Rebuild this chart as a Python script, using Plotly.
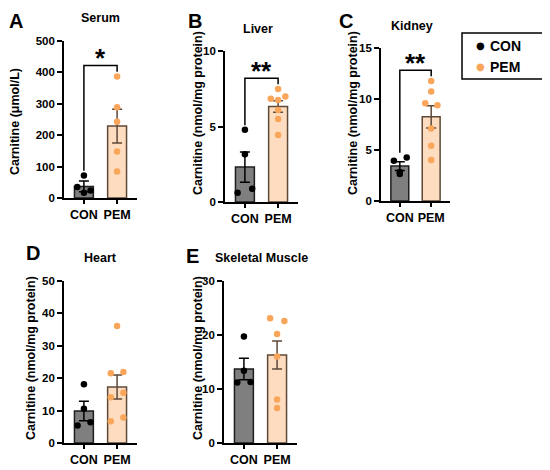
import plotly.graph_objects as go

groups = ["CON", "PEM"]

letters = ["A", "B", "C", "D", "E"]
tissues = ["Serum", "Liver", "Kidney", "Heart", "Skeletal Muscle"]
y_titles = ["Carnitine (μmol/L)", "Carnitine (nmol/mg protein)", "Carnitine (nmol/mg protein)",
            "Carnitine (nmol/mg protein)", "Carnitine (nmol/mg protein)"]

# bar heights (mean) and SEM
con_mean = [37, 2.31, 3.42, 9.9, 13.7]
con_sem = [17, 1.0, 0.42, 3.0, 2.0]
pem_mean = [229, 6.32, 8.25, 17.3, 16.3]
pem_sem = [54, 0.38, 1.1, 3.7, 2.6]

# individual values
con_points = [
    [72, 35, 24, 17],
    [4.78, 3.17, 0.61, 0.88],
    [3.95, 4.27, 2.64, 2.85],
    [18.1, 10.6, 6.4, 5.4],
    [19.7, 13.4, 11.2, 11.3],
]
pem_points = [
    [387, 289, 243, 148, 84],
    [7.49, 6.98, 6.83, 6.76, 6.1, 5.5, 4.44],
    [11.77, 10.73, 9.59, 9.39, 7.1, 5.41, 4.01],
    [36.1, 21.5, 21.9, 14.1, 15.5, 7.9, 6.7],
    [23.1, 22.6, 20.2, 16.0, 8.05, 6.5],
]
# horizontal scatter offsets of the dots (category units)
con_jitter = [
    [0, -0.2, 0.2, 0],
    [0, 0, -0.22, 0.22],
    [-0.19, 0.22, 0, 0],
    [0, 0, 0.2, -0.19],
    [0, 0, -0.2, 0.2],
]
pem_jitter = [
    [0, 0, 0, 0, 0],
    [0, 0.22, -0.22, 0, 0, 0, 0],
    [0, 0, -0.19, 0.2, 0, 0, 0],
    [0, -0.19, 0.19, -0.19, 0.19, 0.19, -0.19],
    [-0.21, 0.22, 0, 0, 0, 0],
]

y_max = [500, 10, 15, 50, 30]
y_step = [100, 5, 5, 10, 10]
stars = ["*", "**", "**", "", ""]

# the page body has an 8px margin, so the figure is a little smaller than the window
OFF = 8
W, H = 550 - OFF, 470 - OFF


def px_x(v):
    return (v - OFF) / W


def px_y(v):
    return 1 - (v - OFF) / H


# plot areas in window pixels: x0, x1, ytop, ybottom
boxes = [(64, 137, 41, 198), (225, 298, 51, 202), (381, 450, 48, 201),
         (64, 137, 281, 443), (224, 297, 281, 443)]
title_pos = [(15, 122), (198, 113), (353, 113), (31, 358), (198, 358)]
tissue_pos = [(100, 18), (258, 29), (412, 26), (100, 258), (261, 258)]
letter_pos = [(16, 8), (195, 8), (346, 8), (33, 240), (192, 243)]

CON_FILL, CON_LINE = "#7f7f7f", "#1e1e1e"
PEM_FILL, PEM_LINE, PEM_DOT = "#fedcbf", "#5e4938", "#f9a65a"
FONT = "Liberation Sans"

fig = go.Figure()
shapes, annotations = [], []

for i in range(5):
    xa = "x" if i == 0 else f"x{i + 1}"
    ya = "y" if i == 0 else f"y{i + 1}"
    fig.add_trace(go.Bar(
        x=[0], y=[con_mean[i]], width=0.57, xaxis=xa, yaxis=ya,
        marker=dict(color=CON_FILL, line=dict(color=CON_LINE, width=1.5)),
        error_y=dict(type="data", array=[con_sem[i]], color="#000000", thickness=1.5, width=5),
    ))
    fig.add_trace(go.Bar(
        x=[1], y=[pem_mean[i]], width=0.57, xaxis=xa, yaxis=ya,
        marker=dict(color=PEM_FILL, line=dict(color=PEM_LINE, width=1.5)),
        error_y=dict(type="data", array=[pem_sem[i]], color=PEM_LINE, thickness=1.5, width=5),
    ))
    fig.add_trace(go.Scatter(
        x=[0 + j for j in con_jitter[i]], y=con_points[i], mode="markers",
        xaxis=xa, yaxis=ya, name="CON", cliponaxis=False,
        marker=dict(color="#000000", size=6.5),
    ))
    fig.add_trace(go.Scatter(
        x=[1 + j for j in pem_jitter[i]], y=pem_points[i], mode="markers",
        xaxis=xa, yaxis=ya, name="PEM", cliponaxis=False,
        marker=dict(color=PEM_DOT, size=6.5),
    ))

    x0, x1, yt, yb = boxes[i]
    ax = dict(domain=[px_x(x0), px_x(x1)], range=[-0.6, 1.6], anchor=ya,
              tickvals=[0, 1], ticktext=groups, showline=True, linecolor="#000000",
              linewidth=1.6, ticks="outside", ticklen=4, tickwidth=1.5, tickcolor="#000000",
              showgrid=False, zeroline=False, fixedrange=True,
              tickfont=dict(family=FONT, size=12.5, color="#000000", weight="bold"))
    ay = dict(domain=[px_y(yb), px_y(yt)], range=[0, y_max[i]], anchor=xa,
              tickvals=list(range(0, y_max[i] + 1, y_step[i])), showline=True,
              linecolor="#000000", linewidth=1.6, ticks="outside", ticklen=5,
              tickwidth=1.5, tickcolor="#000000", showgrid=False, zeroline=False,
              tickfont=dict(family=FONT, size=11.5, color="#000000", weight="bold"))
    fig.update_layout({"xaxis" if i == 0 else f"xaxis{i + 1}": ax,
                       "yaxis" if i == 0 else f"yaxis{i + 1}": ay})

    # significance bracket
    if stars[i]:
        gap = 0.03 * y_max[i]
        left = max(con_points[i]) + gap
        right = max(pem_points[i]) + gap
        top = max(left, right) + 0.04 * y_max[i]
        shapes.append(dict(type="path", xref=xa, yref=ya,
                           path=f"M 0,{left} L 0,{top} L 1,{top} L 1,{right}",
                           line=dict(color="#000000", width=1.5)))
        annotations.append(dict(text=f"<b>{stars[i]}</b>", x=0.5, y=top, xref=xa, yref=ya,
                                showarrow=False, yanchor="bottom", yshift=-10,
                                font=dict(family=FONT, size=26, color="#000000")))

    tx, ty = title_pos[i]
    annotations.append(dict(text=f"<b>{y_titles[i]}</b>", x=px_x(tx), y=px_y(ty),
                            xref="paper", yref="paper", textangle=-90, showarrow=False,
                            xanchor="center", yanchor="middle",
                            font=dict(family=FONT, size=12.5, color="#000000")))
    px, py = tissue_pos[i]
    annotations.append(dict(text=f"<b>{tissues[i]}</b>", x=px_x(px), y=px_y(py),
                            xref="paper", yref="paper", showarrow=False,
                            xanchor="center", yanchor="middle",
                            font=dict(family=FONT, size=12.5, color="#000000")))
    # panel letters, anchored by their top edge so they stay inside the page
    lx, ly = letter_pos[i]
    annotations.append(dict(text=f"<b>{letters[i]}</b>", x=px_x(lx), y=px_y(ly),
                            xref="paper", yref="paper", showarrow=False,
                            xanchor="center", yanchor="top",
                            font=dict(family=FONT, size=20, color="#000000")))

# legend box drawn by hand so it sits where the original one does
shapes.append(dict(type="rect", xref="paper", yref="paper",
                   x0=px_x(462), x1=px_x(543), y0=px_y(79), y1=px_y(33),
                   line=dict(color="#000000", width=1.5), fillcolor="white"))
for k, (name, col) in enumerate(zip(groups, ["#000000", PEM_DOT])):
    yy = px_y(46 + 21 * k)
    annotations.append(dict(text="●", x=px_x(480), y=yy, xref="paper", yref="paper",
                            showarrow=False, xanchor="center", yanchor="middle",
                            font=dict(family="DejaVu Sans", size=10, color=col)))
    annotations.append(dict(text=f"<b>{name}</b>", x=px_x(488), y=yy, xref="paper", yref="paper",
                            showarrow=False, xanchor="left", yanchor="middle",
                            font=dict(family=FONT, size=14, color="#000000")))

fig.update_layout(
    width=W, height=H,
    margin=dict(l=0, r=0, t=0, b=0, autoexpand=False),
    paper_bgcolor="white", plot_bgcolor="white",
    barmode="overlay", showlegend=False,
    shapes=shapes, annotations=annotations,
)

fig.write_html("out.html")
